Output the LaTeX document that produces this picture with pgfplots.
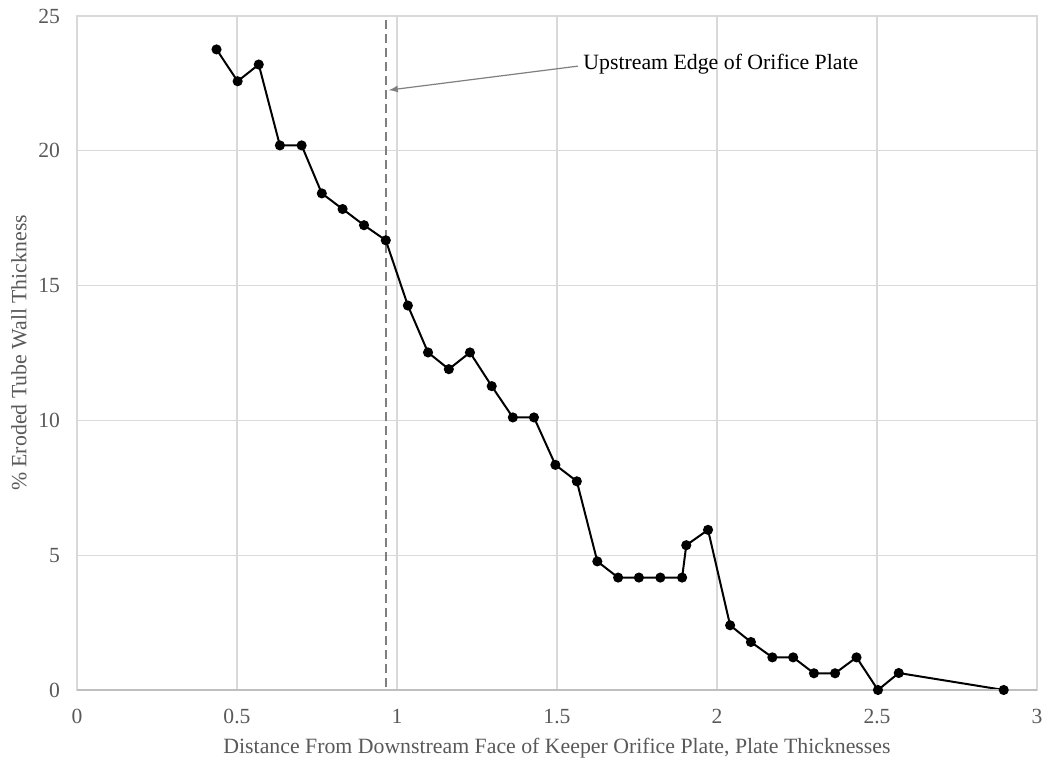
\documentclass[border=0pt]{standalone}
\usepackage{pgfplots}
\pgfplotsset{compat=1.18}
\usepackage{fontspec}
\setmainfont{Liberation Serif}
\definecolor{gridc}{HTML}{D9D9D9}
\definecolor{axc}{HTML}{BFBFBF}
\definecolor{txtc}{HTML}{595959}
\definecolor{dashc}{HTML}{7F7F7F}
\begin{document}
\begin{tikzpicture}
\begin{axis}[
  scale only axis,
  width=480pt, height=337pt,
  xmin=0, xmax=3, ymin=0, ymax=25,
  xtick={0,0.5,1,1.5,2,2.5,3},
  ytick={0,5,10,15,20,25},
  xticklabels={0,0.5,1,1.5,2,2.5,3},
  grid=major,
  grid style={gridc, line width=0.6pt},
  axis line style={gridc, line width=0.6pt},
  major tick length=0pt,
  tick label style={font=\fontsize{10.8}{12}\selectfont, text=txtc},
  /pgf/number format/assume math mode=true,
  xticklabel style={yshift=-6pt},
  yticklabel style={xshift=-5pt},
  xlabel={Distance From Downstream Face of Keeper Orifice Plate, Plate Thicknesses},
  ylabel={\% Eroded Tube Wall Thickness},
  label style={font=\fontsize{10.9}{12}\selectfont, text=txtc},
  xlabel style={yshift=-0.5pt},
  ylabel style={yshift=-1pt},
  clip=false,
]
\addplot[dashc, line width=1pt, dash pattern=on 4.5pt off 2.5pt] coordinates {(0.966,0.1) (0.966,24.9)};
\addplot[black, line width=1pt, mark=*, mark size=2pt] coordinates {
(0.436,23.76) (0.502,22.58) (0.568,23.2) (0.634,20.2) (0.702,20.2)
(0.765,18.42) (0.830,17.84) (0.897,17.24) (0.965,16.68)
(1.034,14.26) (1.097,12.52) (1.162,11.90) (1.228,12.52) (1.296,11.27)
(1.362,10.11) (1.428,10.11) (1.495,8.35) (1.562,7.74)
(1.626,4.77) (1.691,4.17) (1.756,4.17) (1.823,4.17) (1.891,4.17)
(1.904,5.37) (1.972,5.94) (2.041,2.40) (2.106,1.78) (2.173,1.21)
(2.238,1.21) (2.303,0.62) (2.369,0.62) (2.436,1.21) (2.503,0)
(2.568,0.63) (2.896,0)
};
\draw[dashc, line width=0.6pt, -{latex}] (axis cs:1.565,23.14) -- (axis cs:0.974,22.25);
\node[anchor=west, font=\fontsize{10.9}{12}\selectfont, text=black, inner sep=1pt] at (axis cs:1.575,23.2) {Upstream Edge of Orifice Plate};
\draw[axc, line width=0.6pt] (rel axis cs:0,0) -- (rel axis cs:1,0);
\end{axis}
\pgfresetboundingbox
\path (current axis.south west) ++(-38.5pt,-34.5pt) coordinate (bl);
\path (current axis.north east) ++(4pt,8pt) coordinate (tr);
\path[use as bounding box] (bl) rectangle (tr);
\end{tikzpicture}
\end{document}
